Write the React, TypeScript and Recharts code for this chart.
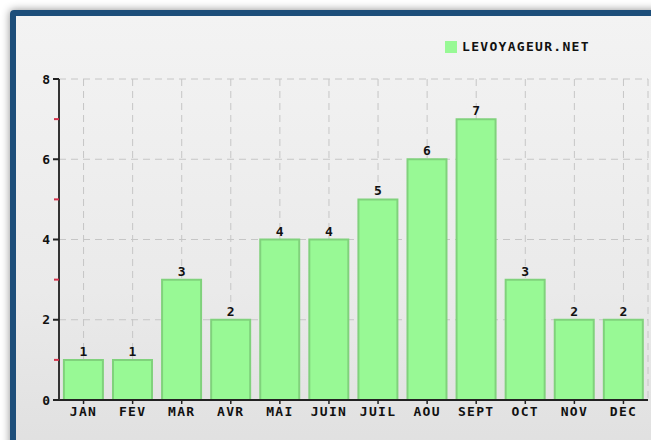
import React from "react";
import {
  Bar,
  BarChart,
  CartesianGrid,
  LabelList,
  XAxis,
  YAxis,
} from "recharts";

const months = ["JAN", "FEV", "MAR", "AVR", "MAI", "JUIN", "JUIL", "AOU", "SEPT", "OCT", "NOV", "DEC"];
const visits = [1, 1, 3, 2, 4, 4, 5, 6, 7, 3, 2, 2];
const yTicks = [0, 1, 2, 3, 4, 5, 6, 7, 8];
const gridValues = [2, 4, 6, 8];
const seriesName = "LEVOYAGEUR.NET";

const FONT = '"DejaVu Sans Mono", monospace';
const GREEN = "#98f995";
const GREEN_EDGE = "#80d27c";

const data = months.map((m, i) => ({ month: m, value: visits[i] }));

function YTick(props: any) {
  const { x, y, payload } = props;
  const v = payload.value as number;
  if (v % 2 === 1) {
    return <line x1={x + 5} x2={x + 10} y1={y} y2={y} stroke="#d4304a" strokeWidth={2} />;
  }
  return (
    <g>
      <line x1={x + 4} x2={x + 10} y1={y} y2={y} stroke="#222" strokeWidth={2} />
      <text x={x + 1} y={y} dy={4.5} textAnchor="end" fontFamily={FONT} fontWeight="bold" fontSize={13} fill="#111">
        {v}
      </text>
    </g>
  );
}

export default function App() {
  return (
    <div
      style={{
        position: "fixed",
        left: 0,
        top: 0,
        width: 651,
        height: 440,
        overflow: "hidden",
        background: "#fff",
      }}
    >
      <div
        style={{
          position: "absolute",
          left: 10,
          top: 10,
          width: 700,
          height: 500,
          border: "6px solid #1d4e7a",
          borderRadius: 4,
          boxShadow: "0 0 9px rgba(0,0,0,0.45)",
          background: "linear-gradient(180deg, #f3f3f3 0%, #eaeaea 55%, #dcdcdc 100%)",
        }}
      />
      <div
        style={{
          position: "absolute",
          left: 445,
          top: 39,
          display: "flex",
          alignItems: "center",
          fontFamily: FONT,
          fontWeight: "bold",
          fontSize: 13,
          letterSpacing: 1.3,
          color: "#111",
        }}
      >
        <span style={{ width: 12, height: 12, background: GREEN, display: "inline-block", marginRight: 5 }} />
        {seriesName}
      </div>
      <div style={{ position: "absolute", left: 0, top: 0 }}>
        <BarChart
          width={651}
          height={440}
          data={data}
          margin={{ top: 79, right: 3, bottom: 10, left: 0 }}
          barCategoryGap="10%"
        >
          <CartesianGrid
            stroke="#c6c6c6"
            strokeDasharray="7 5"
            horizontalValues={gridValues}
          />
          <XAxis
            dataKey="month"
            height={30}
            tickSize={4}
            tickMargin={3}
            axisLine={{ stroke: "#222", strokeWidth: 2 }}
            tickLine={{ stroke: "#222", strokeWidth: 1.5 }}
            tick={{ fontFamily: FONT, fontWeight: "bold", fontSize: 13, fill: "#111", letterSpacing: 1.3 }}
            interval={0}
          />
          <YAxis
            width={59}
            domain={[0, 8]}
            ticks={yTicks}
            interval={0}
            tickSize={6}
            tickMargin={4}
            tickLine={false}
            axisLine={{ stroke: "#333", strokeWidth: 2 }}
            tick={<YTick />}
          />
          <Bar
            dataKey="value"
            name={seriesName}
            fill={GREEN}
            stroke={GREEN_EDGE}
            strokeWidth={2}
            isAnimationActive={false}
          >
            <LabelList
              dataKey="value"
              position="top"
              offset={4}
              fontFamily={FONT}
              fontWeight="bold"
              fontSize={13}
              fill="#111"
            />
          </Bar>
        </BarChart>
      </div>
    </div>
  );
}
